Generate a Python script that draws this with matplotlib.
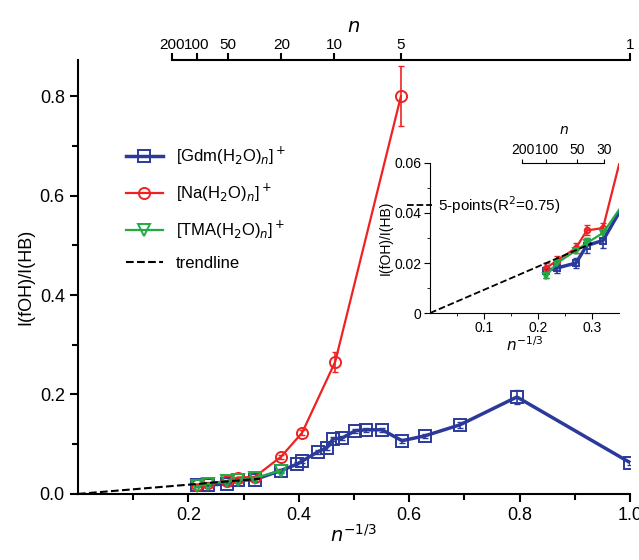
import matplotlib.pyplot as plt
import numpy as np

# n^-1/3 values and I(fOH)/I(HB)
gdm_x = [0.215, 0.235, 0.27, 0.29, 0.32, 0.368, 0.397, 0.406, 0.435, 0.451, 0.462, 0.478,
         0.502, 0.522, 0.551, 0.587, 0.629, 0.692, 0.795, 1.0]
gdm_y = [0.017, 0.018, 0.020, 0.027, 0.029, 0.047, 0.060, 0.066, 0.085, 0.093, 0.111, 0.112,
         0.127, 0.129, 0.129, 0.107, 0.117, 0.139, 0.195, 0.063]
gdm_err = [0.003, 0.002, 0.002, 0.003, 0.003, 0.004, 0.004, 0.004, 0.004, 0.004, 0.004, 0.004,
           0.004, 0.004, 0.004, 0.004, 0.004, 0.006, 0.014, 0.004]
na_x = [0.215, 0.235, 0.27, 0.29, 0.32, 0.368, 0.406, 0.466, 0.585]
na_y = [0.018, 0.021, 0.026, 0.033, 0.034, 0.075, 0.123, 0.266, 0.80]
na_err = [0.002, 0.002, 0.002, 0.002, 0.002, 0.004, 0.005, 0.02, 0.06]
tma_x = [0.215, 0.235, 0.27, 0.29, 0.32, 0.368]
tma_y = [0.015, 0.020, 0.025, 0.028, 0.032, 0.047]
tma_err = [0.001, 0.001, 0.001, 0.002, 0.002, 0.003]
trend_slope = 0.093
trend_x = [0.0, 0.33]
top_n = [200, 100, 50, 20, 10, 5, 1]
inset_top_n = [200, 100, 50, 30]

BLUE = "#2b3a9a"
RED = "#ee2222"
GREEN = "#22aa44"

plt.rcParams["font.family"] = ["Liberation Sans", "DejaVu Sans"]
fig = plt.figure(figsize=(6.39, 5.6), dpi=100)
ax = fig.add_axes([0.122, 0.118, 0.864, 0.775])


def draw(a, ms, lw_main):
    hs = []
    for x, y, e, c, m, lw, lab in [
        (gdm_x, gdm_y, gdm_err, BLUE, "s", lw_main, r"[Gdm(H$_2$O)$_n$]$^+$"),
        (na_x, na_y, na_err, RED, "o", 1.6, r"[Na(H$_2$O)$_n$]$^+$"),
        (tma_x, tma_y, tma_err, GREEN, "v", 1.6, r"[TMA(H$_2$O)$_n$]$^+$"),
    ]:
        a.errorbar(x, y, yerr=e, fmt="none", ecolor=c, elinewidth=1.2, capsize=2, zorder=3)
        (h,) = a.plot(x, y, color=c, marker=m, ms=ms, mfc="none", mew=1.4, lw=lw,
                      label=lab, zorder=4)
        hs.append(h)
    return hs


hs = draw(ax, 8, 2.5)
tx = np.array(trend_x)
(th,) = ax.plot(tx, trend_slope * tx, "k--", lw=1.5, label="trendline", zorder=6)
ax.set_xlim(0, 1.0)
ax.set_ylim(0, 0.873)
ax.set_xticks([0.2, 0.4, 0.6, 0.8, 1.0])
ax.set_xticks(np.arange(0.1, 1.0, 0.2), minor=True)
ax.set_yticks([0.0, 0.2, 0.4, 0.6, 0.8])
ax.set_yticks([0.1, 0.3, 0.5, 0.7], minor=True)
ax.tick_params(labelsize=13, width=1.5, length=6, top=False, right=False)
ax.tick_params(which="minor", width=1.5, length=4)
ax.xaxis.set_major_formatter(plt.FuncFormatter(lambda v, p: f"{v:.1f}"))
ax.yaxis.set_major_formatter(plt.FuncFormatter(lambda v, p: f"{v:.1f}"))
ax.set_xlabel(r"$n^{-1/3}$", fontsize=14, labelpad=0)
ax.set_ylabel("I(fOH)/I(HB)", fontsize=13)
for s in ["left", "bottom", "top"]:
    ax.spines[s].set_linewidth(1.5)
ax.spines["right"].set_visible(False)
ax.spines["top"].set_bounds(200 ** (-1 / 3), 1.0)

sec = ax.secondary_xaxis("top", functions=(lambda v: v, lambda v: v))
sec.set_xticks([n ** (-1 / 3) for n in top_n])
sec.set_xticklabels([str(n) for n in top_n], fontsize=11)
sec.tick_params(width=1.5, length=5, pad=1)
sec.spines["top"].set_visible(False)
sec.set_xlabel(r"$n$", fontsize=14, labelpad=4)

ax.legend(hs + [th], [h.get_label() for h in hs + [th]], loc="upper left",
          bbox_to_anchor=(0.06, 0.84), frameon=False, fontsize=12,
          handlelength=2.2, labelspacing=0.9)

# inset
ins = fig.add_axes([0.673, 0.441, 0.296, 0.268])
draw(ins, 4, 2.5)
ix = np.array([0.0, 0.3])
(ih,) = ins.plot(ix, trend_slope * ix, "k--", lw=1.3, zorder=6)
ins.set_xlim(0, 0.35)
ins.set_ylim(0, 0.06)
ins.set_xticks([0.1, 0.2, 0.3])
ins.set_xticks([0.05, 0.15, 0.25], minor=True)
ins.set_yticks([0, 0.02, 0.04, 0.06])
ins.set_yticklabels(["0", "0.02", "0.04", "0.06"])
ins.set_yticks([0.01, 0.03, 0.05], minor=True)
ins.tick_params(labelsize=10, length=4, pad=2)
ins.tick_params(which="minor", length=2.5)
ins.set_xlabel(r"$n^{-1/3}$", fontsize=11, labelpad=0)
ins.set_ylabel("I(fOH)/I(HB)", fontsize=10, labelpad=1)
ins.spines["right"].set_visible(False)
ins.spines["top"].set_bounds(200 ** (-1 / 3), 30 ** (-1 / 3))
isec = ins.secondary_xaxis("top", functions=(lambda v: v, lambda v: v))
isec.set_xticks([n ** (-1 / 3) for n in inset_top_n])
isec.set_xticklabels([str(n) for n in inset_top_n], fontsize=10)
isec.tick_params(length=3, pad=1)
isec.spines["top"].set_visible(False)
ins.text(0.71, 1.17, r"$n$", transform=ins.transAxes, ha="center", va="bottom", fontsize=10)
ins.legend([ih], ["5-points(R$^2$=0.75)"], loc="center left", bbox_to_anchor=(-0.16, 0.72),
           frameon=False, fontsize=11, handlelength=1.6, borderpad=0, handletextpad=0.4)

fig.savefig("out.png", dpi=100)
